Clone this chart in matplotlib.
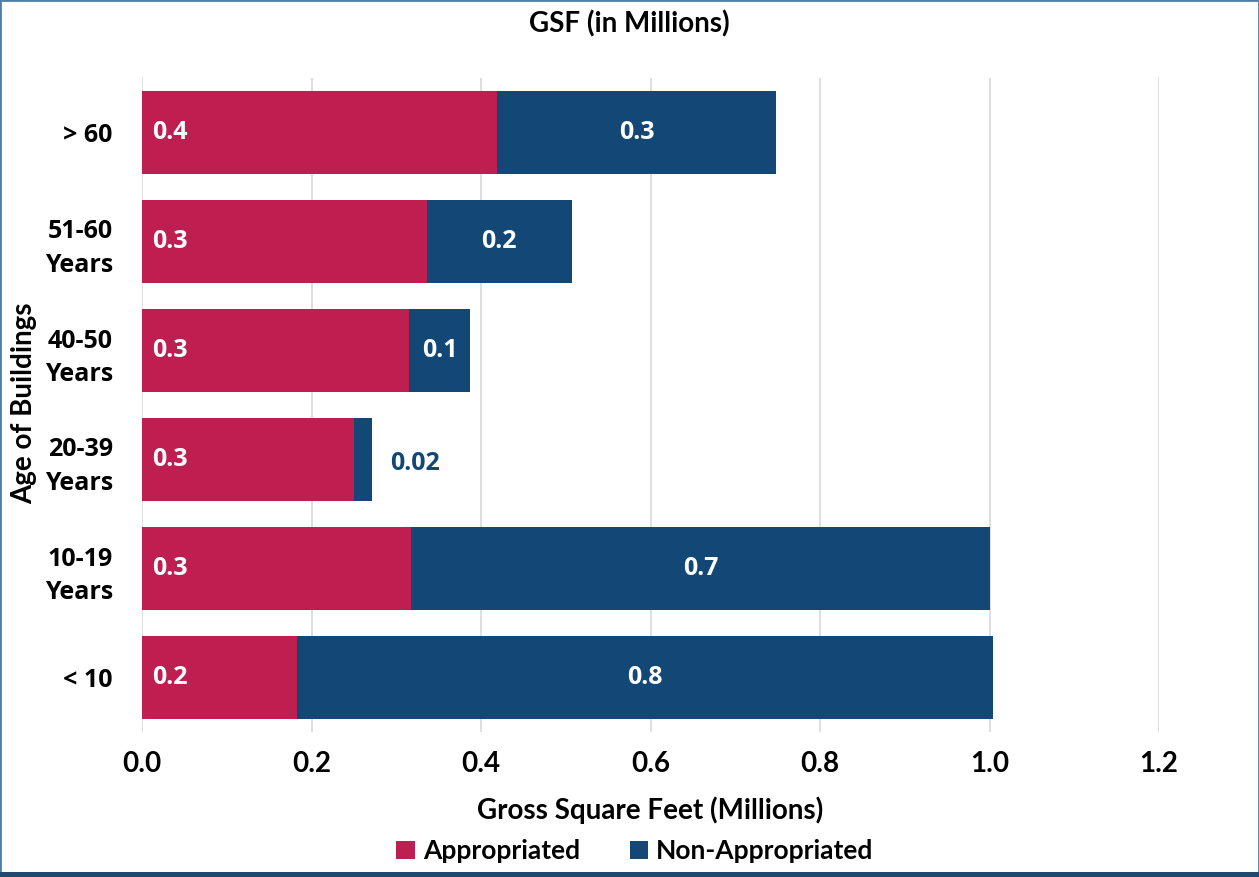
import matplotlib
matplotlib.use("Agg")
import matplotlib.pyplot as plt
from matplotlib.patches import Rectangle
import numpy as np

categories = ["> 60", "51-60\nYears", "40-50\nYears", "20-39\nYears", "10-19\nYears", "< 10"]
appropriated = [0.419, 0.336, 0.315, 0.250, 0.317, 0.183]
non_appropriated = [0.329, 0.171, 0.072, 0.021, 0.684, 0.821]
app_labels = ["0.4", "0.3", "0.3", "0.3", "0.3", "0.2"]
non_labels = ["0.3", "0.2", "0.1", "0.02", "0.7", "0.8"]
xticks = [0.0, 0.2, 0.4, 0.6, 0.8, 1.0, 1.2]
xtick_labels = ["0.0", "0.2", "0.4", "0.6", "0.8", "1.0", "1.2"]

RED = "#BE1E50"
BLUE = "#134876"

fig = plt.figure(figsize=(12.59, 8.77), dpi=100)
ax = fig.add_axes([142/1259, 1-732/877, (1159-142)/1259, (732-78)/877])

y = np.arange(len(categories))[::-1]
ax.barh(y, appropriated, height=0.77, color=RED, label="Appropriated", zorder=3)
ax.barh(y, non_appropriated, left=appropriated, height=0.77, color=BLUE,
        label="Non-Appropriated", zorder=3)

lab_font = dict(family="Open Sans", weight="bold", fontsize=18)
for yi, a, n, al, nl in zip(y, appropriated, non_appropriated, app_labels, non_labels):
    ax.text(0.012, yi, al, color="white", va="center", ha="left", zorder=4, **lab_font)
    if n < 0.05:
        ax.text(a + n + 0.022, yi - 0.04, nl, color=BLUE, va="center", ha="left", zorder=4, **lab_font)
    else:
        ax.text(a + n / 2, yi, nl, color="white", va="center", ha="center", zorder=4, **lab_font)

ax.set_xlim(0, 1.2)
ax.set_ylim(-0.5, len(categories) - 0.5)
ax.set_xticks(xticks)
ax.set_xticklabels(xtick_labels, family="Lato", weight="bold", fontsize=20)
ax.set_yticks(y)
ax.set_yticklabels(categories, family="Open Sans", weight="bold", fontsize=18,
                   linespacing=1.45)
ax.tick_params(axis="x", length=0, pad=14)
ax.tick_params(axis="y", length=0, pad=21)
ax.grid(axis="x", color="#D9D9D9", linewidth=1.2, zorder=0)
for s in ax.spines.values():
    s.set_visible(False)

ax.set_xlabel("Gross Square Feet (Millions)", family="Lato", weight="bold", fontsize=20, labelpad=14)
fig.text(24/1259, 1-403/877, "Age of Buildings", rotation=90, ha="center", va="center",
         family="Lato", weight="bold", fontsize=20)

fig.text(629/1259, 1-24/877, "GSF (in Millions)", ha="center", va="center",
         family="Lato", weight="bold", fontsize=20)

handles, labels = ax.get_legend_handles_labels()
leg = fig.legend(handles, labels, loc="center", bbox_to_anchor=(635/1259, 1-851/877),
                 ncol=2, frameon=False, handlelength=0.7, handleheight=0.7,
                 handletextpad=0.3, columnspacing=1.9,
                 prop=dict(family="Lato", weight="bold", size=19))

# figure frame
fig.patches.append(Rectangle((0, 0), 1, 1, transform=fig.transFigure, fill=False,
                             edgecolor="#4F7FA6", linewidth=2.0, zorder=10))
fig.patches.append(Rectangle((0, 0), 1, 5/877, transform=fig.transFigure,
                             facecolor="#1F4A6E", edgecolor="none", zorder=10))

fig.savefig("out.png", dpi=100)
